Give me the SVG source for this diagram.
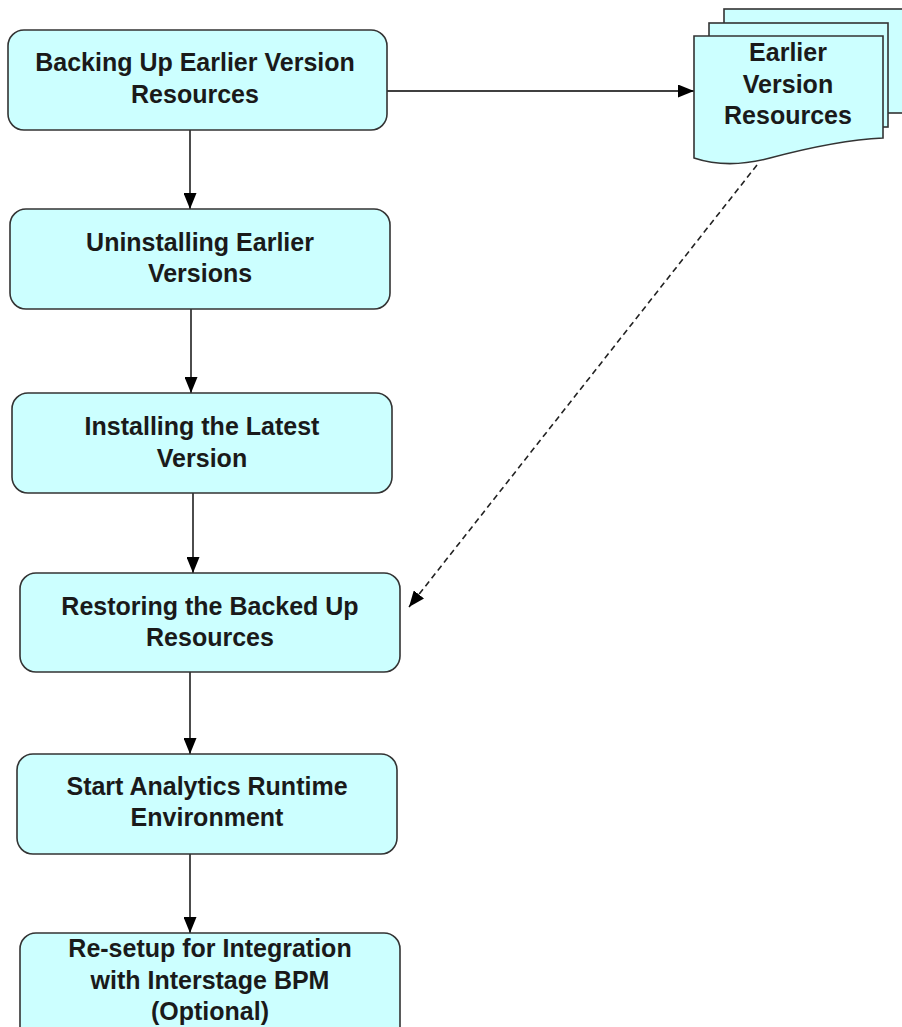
<svg xmlns="http://www.w3.org/2000/svg" width="902" height="1027" viewBox="0 0 902 1027">
<style>
.box{fill:#ccffff;stroke:#333;stroke-width:1.6}
.t{font-family:"Liberation Sans",Arial,sans-serif;font-weight:bold;font-size:25px;fill:#1a1a1a;text-anchor:middle}
.c{stroke:#000;stroke-width:1.4;fill:none}
.d{stroke:#222;stroke-width:1.6;fill:none;stroke-dasharray:6 4}
</style>
<defs>
<marker id="ah" viewBox="0 0 16 13" refX="16" refY="6.5" markerWidth="16" markerHeight="13" markerUnits="userSpaceOnUse" orient="auto">
<path d="M0,0 L16,6.5 L0,13 Z" fill="#000"/>
</marker>
</defs>
<rect width="902" height="1027" fill="#fff"/>
<g id="connectors">
<line class="c" x1="387" y1="91" x2="694" y2="91" marker-end="url(#ah)"/>
<line class="c" x1="190" y1="130" x2="190" y2="209" marker-end="url(#ah)"/>
<line class="c" x1="191" y1="309" x2="191" y2="393" marker-end="url(#ah)"/>
<line class="c" x1="193" y1="493" x2="193" y2="573" marker-end="url(#ah)"/>
<line class="c" x1="190" y1="672" x2="190" y2="754" marker-end="url(#ah)"/>
<line class="c" x1="190" y1="854" x2="190" y2="933" marker-end="url(#ah)"/>
<line class="d" x1="757" y1="165" x2="409" y2="607" marker-end="url(#ah)"/>
</g>
<g id="n1">
<rect class="box" x="8" y="30" width="379" height="100" rx="16"/>
<text class="t" x="195" y="71">Backing Up Earlier Version</text>
<text class="t" x="195" y="103">Resources</text>
</g>
<g id="n2">
<rect class="box" x="10" y="209" width="380" height="100" rx="16"/>
<text class="t" x="200" y="251">Uninstalling Earlier</text>
<text class="t" x="200" y="282">Versions</text>
</g>
<g id="n3">
<rect class="box" x="12" y="393" width="380" height="100" rx="16"/>
<text class="t" x="202" y="435">Installing the Latest</text>
<text class="t" x="202" y="467">Version</text>
</g>
<g id="n4">
<rect class="box" x="20" y="573" width="380" height="99" rx="16"/>
<text class="t" x="210" y="615">Restoring the Backed Up</text>
<text class="t" x="210" y="646">Resources</text>
</g>
<g id="n5">
<rect class="box" x="17" y="754" width="380" height="100" rx="16"/>
<text class="t" x="207" y="795">Start Analytics Runtime</text>
<text class="t" x="207" y="826">Environment</text>
</g>
<g id="n6">
<rect class="box" x="20" y="933" width="380" height="110" rx="16"/>
<text class="t" x="210" y="957">Re-setup for Integration</text>
<text class="t" x="210" y="989">with Interstage BPM</text>
<text class="t" x="210" y="1020">(Optional)</text>
</g>
<g id="doc">
<rect class="box" x="724" y="9" width="190" height="104"/>
<rect class="box" x="709" y="23" width="179" height="104"/>
<path class="box" d="M694,36 L883,36 L883,138 C840,140 800,150 770,158 C740,166 715,165 694,158 Z"/>
<text class="t" x="788" y="61">Earlier</text>
<text class="t" x="788" y="93">Version</text>
<text class="t" x="788" y="124">Resources</text>
</g>
</svg>
